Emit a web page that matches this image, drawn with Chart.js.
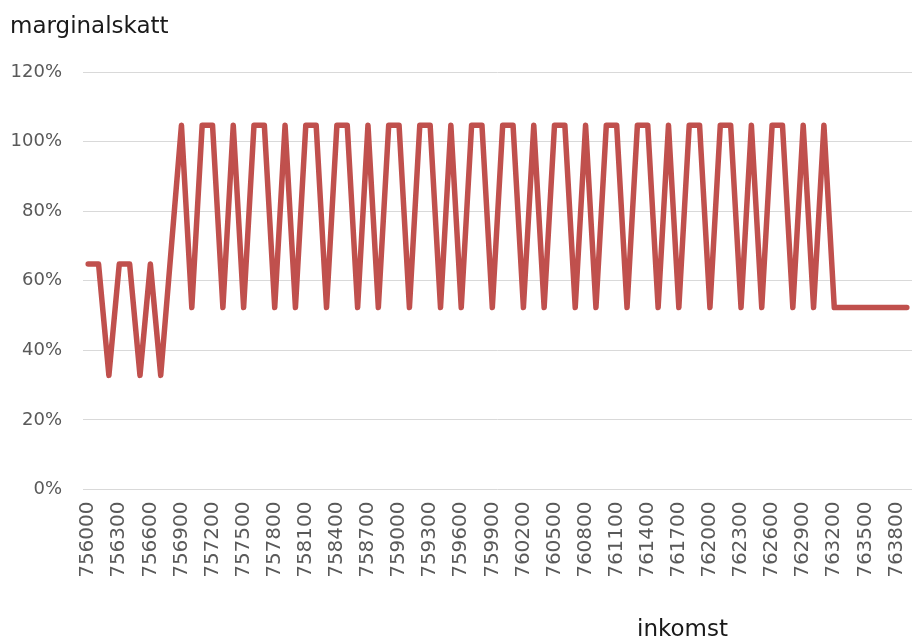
<!DOCTYPE html>
<html>
<head>
<meta charset="utf-8">
<script src="https://cdn.jsdelivr.net/npm/chart.js@4.4.1/dist/chart.umd.min.js"></script>
<style>
html,body{margin:0;padding:0;background:#fff;}
#wrap{width:914px;height:640px;}
</style>
</head>
<body>
<div id="wrap"><canvas id="c" width="914" height="640"></canvas></div>
<script>
// Categories: income (kr), steps of 100
const incomes = [];
for (let v = 756000; v <= 763900; v += 100) incomes.push(String(v));

// Marginal tax rate (%)
const P = 104.7, T = 52.3;
const marginalTax = [
  64.8, 64.8, 32.8, 64.8, 64.8, 32.8, 64.8, 32.8, 68.7, P,
  T, P, P, T, P, T, P, P, T, P,
  T, P, P, T, P, P, T, P, T, P,
  P, T, P, P, T, P, T, P, P, T,
  P, P, T, P, T, P, P, T, P, T,
  P, P, T, P, P, T, P, T, P, P,
  T, P, P, T, P, T, P, P, T, P,
  T, P, T, T, T, T, T, T, T, T
];

const yTicks = [0, 20, 40, 60, 80, 100, 120];
const yTitle = 'marginalskatt';
const xTitle = 'inkomst';

const textPlugin = {
  id: 'texts',
  afterDraw(chart) {
    const ctx = chart.ctx;
    ctx.save();
    ctx.fillStyle = '#1a1a1a';
    ctx.font = '23px "DejaVu Sans"';
    ctx.textAlign = 'left';
    ctx.textBaseline = 'alphabetic';
    ctx.fillText(yTitle, 10, 33);
    ctx.fillText(xTitle, 637, 636);
    ctx.restore();
  }
};

new Chart(document.getElementById('c'), {
  type: 'line',
  data: {
    labels: incomes,
    datasets: [{
      data: marginalTax,
      borderColor: '#C0504D',
      borderWidth: 5.5,
      borderJoinStyle: 'round',
      borderCapStyle: 'round',
      pointRadius: 0,
      pointHoverRadius: 0,
      tension: 0,
      fill: false
    }]
  },
  options: {
    responsive: false,
    animation: false,
    devicePixelRatio: 1,
    layout: { padding: { top: 72, right: 2, left: 0, bottom: 0 } },
    plugins: { legend: { display: false }, tooltip: { enabled: false }, title: { display: false } },
    scales: {
      x: {
        type: 'category',
        offset: true,
        grid: { display: false, drawTicks: false },
        border: { display: false },
        ticks: {
          autoSkip: false,
          maxRotation: 90,
          minRotation: 90,
          padding: 12,
          color: '#595959',
          font: { family: 'DejaVu Sans', size: 20 },
          callback: function (val, idx) { return idx % 3 === 0 ? this.getLabelForValue(val) : ''; }
        },
        afterFit(scale) {
          scale.height = 640 - 489.5;
          scale.paddingLeft = 0;
          scale.paddingRight = 0;
        }
      },
      y: {
        min: 0,
        max: 120,
        afterBuildTicks(scale) { scale.ticks = yTicks.map(v => ({ value: v })); },
        grid: { color: '#d9d9d9', lineWidth: 1, drawTicks: false },
        border: { display: false },
        ticks: {
          padding: 21,
          color: '#595959',
          font: { family: 'DejaVu Sans', size: 18 },
          callback: v => v + '%'
        },
        afterFit(scale) {
          scale.width = 83;
          scale.paddingTop = 0;
          scale.paddingBottom = 0;
        }
      }
    }
  },
  plugins: [textPlugin]
});
</script>
</body>
</html>
